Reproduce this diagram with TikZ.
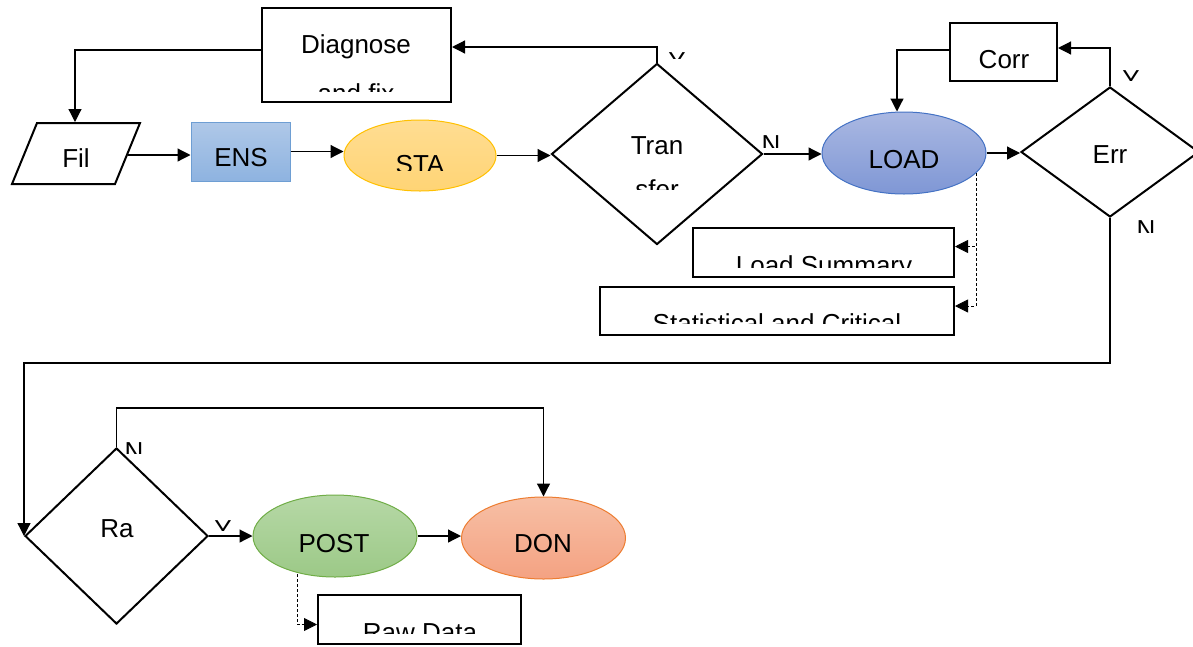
\documentclass[tikz,border=0pt]{standalone}
\usepackage{fontspec}
\setmainfont{Liberation Sans}
\usetikzlibrary{arrows.meta,shapes.geometric,positioning}
\definecolor{ensTop}{HTML}{AFC8E8}
\definecolor{ensBot}{HTML}{8EB3E0}
\definecolor{ensLine}{HTML}{6E9ED3}
\definecolor{staTop}{HTML}{FFDD92}
\definecolor{staBot}{HTML}{FFD475}
\definecolor{staLine}{HTML}{FFC000}
\definecolor{loadTop}{HTML}{AAB8E2}
\definecolor{loadBot}{HTML}{7F97D5}
\definecolor{loadLine}{HTML}{4472C4}
\definecolor{postTop}{HTML}{B6D8A6}
\definecolor{postBot}{HTML}{9CC987}
\definecolor{postLine}{HTML}{70AD47}
\definecolor{donTop}{HTML}{F7BFA5}
\definecolor{donBot}{HTML}{F4A282}
\definecolor{donLine}{HTML}{ED7D31}
\tikzset{
  txt/.style={font=\fontsize{26}{30}\selectfont, inner sep=0pt, anchor=base},
  blk/.style={draw, line width=2pt, inner sep=0pt},
  decision/.style={diamond, draw, line width=2pt, inner sep=0pt},
  oval/.style={ellipse, draw, line width=1pt, inner sep=0pt, minimum width=164pt, minimum height=82pt},
  conn/.style={line width=1.2pt, -{Triangle[length=13pt,width=13pt]}},
  dconn/.style={line width=0.8pt, densely dashed, -{Triangle[length=13pt,width=13pt]}},
}
% text cut off at the bottom, as in the exported chart
\newcommand{\cuttext}[5]{\begin{scope}\clip (#2-200,#4-80) rectangle (#2+200,#4);
\node[txt] (#1) at (#2,#3) {#5};\end{scope}}
\begin{document}
\begin{tikzpicture}[x=1pt,y=-1pt]
\useasboundingbox (0,0) rectangle (1193,646);
% shapes
\node[blk,minimum width=189pt,minimum height=94pt] (diag) at (356.5,55) {};
\draw[line width=2pt,line join=miter] (12,184) -- (37,123) -- (140,123) -- (115,184) -- cycle;
\coordinate (filE) at (127.5,155);
\coordinate (filN) at (75,122);
\node[draw=ensLine,line width=1pt,top color=ensTop,bottom color=ensBot,
  minimum width=99pt,minimum height=59pt] (ens) at (240.5,151.5) {};
\node[oval,draw=staLine,top color=staTop,bottom color=staBot,
  minimum width=152pt,minimum height=71pt] (sta) at (420,155.5) {};
\node[decision,minimum width=211pt,minimum height=181pt] (tran) at (657,154) {};
\node[oval,draw=loadLine,top color=loadTop,bottom color=loadBot] (load) at (904,153) {};
\node[blk,minimum width=107pt,minimum height=58pt] (corr) at (1003.5,52) {};
\node[decision,minimum width=178pt,minimum height=130pt] (err) at (1110,152) {};
\node[blk,minimum width=261pt,minimum height=49pt] (lsum) at (823.5,252.5) {};
\node[blk,minimum width=354pt,minimum height=48pt] (stat) at (777,311) {};
\node[decision,minimum width=183pt,minimum height=176pt] (ra) at (116.5,536) {};
\node[oval,draw=postLine,top color=postTop,bottom color=postBot] (post) at (335,536) {};
\node[oval,draw=donLine,top color=donTop,bottom color=donBot] (don) at (543.5,538) {};
\node[blk,minimum width=203pt,minimum height=49pt] (raw) at (419.5,619.5) {};
% texts
\node[txt] (diagT) at (356,53) {Diagnose};
\cuttext{diagT2}{356}{102}{91}{and fix}
\node[txt] (filT) at (76,167) {Fil};
\node[txt] (ensT) at (241,166) {ENS};
\cuttext{staT}{420}{173}{170}{STA}
\node[txt] (tranT) at (657,154) {Tran};
\cuttext{tranT2}{657}{198}{189}{sfer}
\node[txt] (loadT) at (904,168) {LOAD};
\node[txt] (corrT) at (1004,68) {Corr};
\node[txt] (errT) at (1110,163) {Err};
\cuttext{lsumT}{824}{274}{267}{Load Summary}
\cuttext{statT}{777}{332}{323}{Statistical and Critical}
\node[txt] (raT) at (117,537) {Ra};
\node[txt] (postT) at (334,552) {POST};
\node[txt] (donT) at (543,552) {DON};
\cuttext{rawT}{420}{641}{633}{Raw Data}
% branch labels
\cuttext{tranY}{677}{70}{58}{Y}
\cuttext{tranN}{771}{153}{147}{N}
\cuttext{errY}{1131}{88}{80}{Y}
\cuttext{errN}{1146}{238}{232}{N}
\cuttext{raN}{134}{460}{453}{N}
\cuttext{raY}{223}{538}{530}{Y}
% connectors
\draw[conn] (filE) -- (ens.west |- filE);
\draw[conn] (ens.east) -- (ens.east -| sta.west);
\draw[conn] (sta.east) -- (sta.east -| tran.west);
\draw[conn] (tran.east) -- (tran.east -| load.west);
\draw[conn] (load.east) -- (load.east -| err.west);
\draw[conn] (tran.north) |- ([yshift=8pt]diag.east);
\draw[conn] ([yshift=5pt]diag.west) -| (filN);
\draw[conn] (err.north) |- ([yshift=4pt]corr.east);
\draw[conn] ([yshift=2pt]corr.west) -| ([xshift=-7pt]load.north);
\draw[conn] (err.south) -- ++(0,145) -| (ra.west);
\draw[conn] (ra.north) -- ++(0,-39) -| (don.north);
\draw[conn] (ra.east) -- (ra.east -| post.west);
\draw[conn] (post.east) -- (post.east -| don.west);
\coordinate (ldot) at (976,173);
\coordinate (pdot) at (297,574);
\draw[dconn] (ldot) |- ([yshift=6pt]lsum.east);
\draw[dconn] (ldot) |- ([yshift=5pt]stat.east);
\draw[dconn] (pdot) |- ([yshift=-5pt]raw.west);
\end{tikzpicture}
\end{document}
